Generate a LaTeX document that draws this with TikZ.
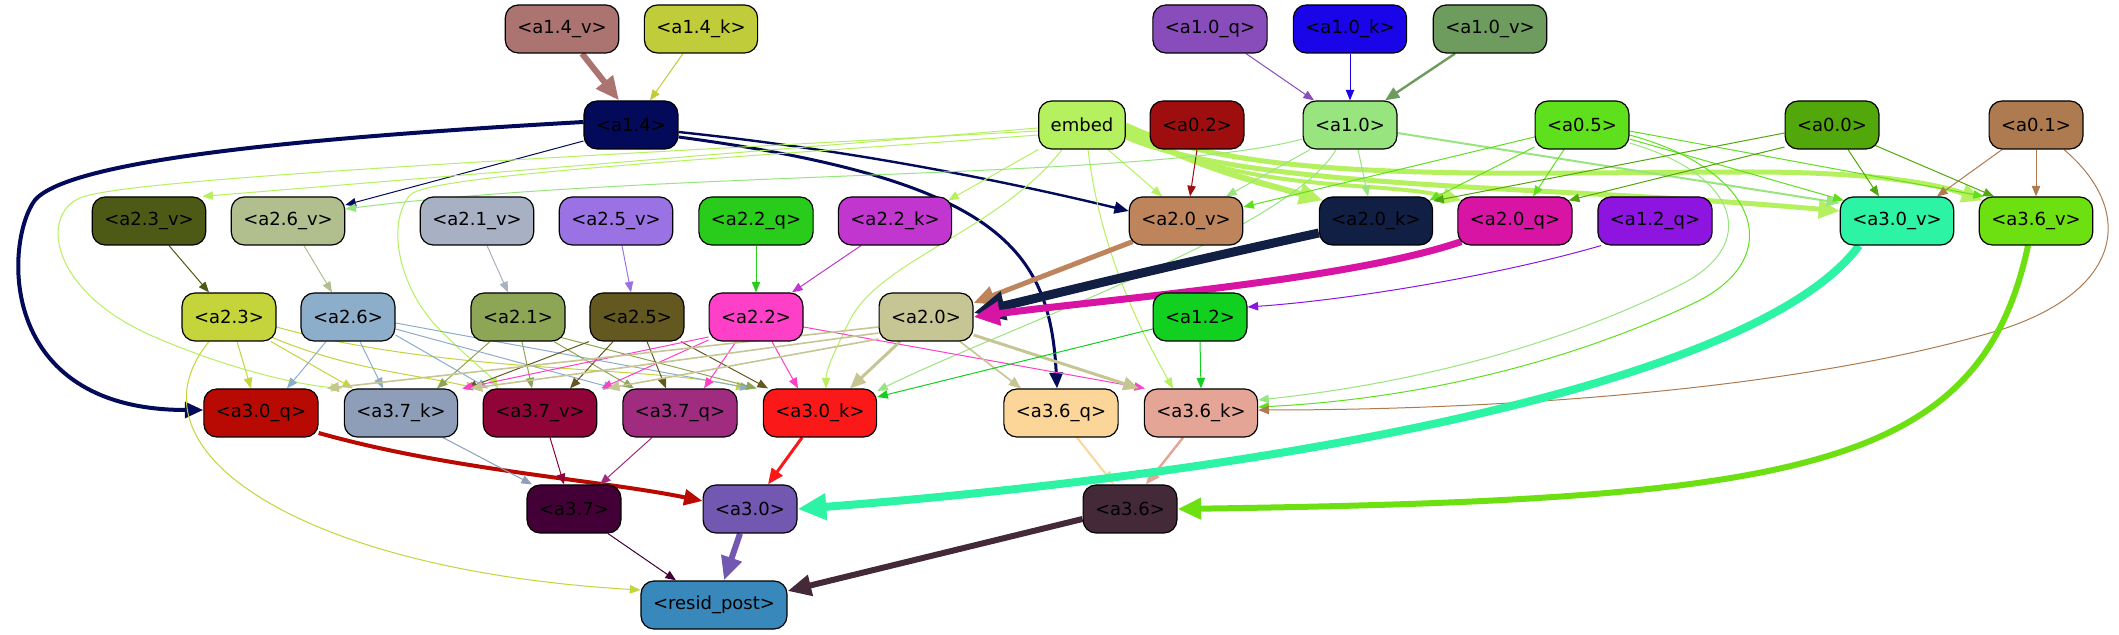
\documentclass[tikz,border=0pt]{standalone}
\usepackage{fontspec}
\setmainfont{DejaVu Sans}
\usetikzlibrary{arrows.meta}
\pgfdeclarelayer{bg}
\pgfsetlayers{bg,main}
\definecolor{c14v}{HTML}{AB7470}
\definecolor{c14k}{HTML}{C0CC3A}
\definecolor{c10q}{HTML}{884DBA}
\definecolor{c10k}{HTML}{1A04E8}
\definecolor{c10v}{HTML}{6E9B5E}
\definecolor{c14}{HTML}{030A5A}
\definecolor{cemb}{HTML}{B5F05E}
\definecolor{c02}{HTML}{9E0E0E}
\definecolor{c10}{HTML}{98E47E}
\definecolor{c05}{HTML}{5EE01C}
\definecolor{c00}{HTML}{52A80A}
\definecolor{c01}{HTML}{AE7A50}
\definecolor{c23v}{HTML}{4D5A16}
\definecolor{c26v}{HTML}{B1BE8E}
\definecolor{c21v}{HTML}{A8B0C4}
\definecolor{c25v}{HTML}{9A72E4}
\definecolor{c22q}{HTML}{2ACC1C}
\definecolor{c22k}{HTML}{C236D0}
\definecolor{c20v}{HTML}{BE845C}
\definecolor{c20k}{HTML}{121F44}
\definecolor{c20q}{HTML}{D814A4}
\definecolor{c12q}{HTML}{8E14E0}
\definecolor{c30v}{HTML}{2CF4A4}
\definecolor{c36v}{HTML}{6CE010}
\definecolor{c23}{HTML}{C4D43A}
\definecolor{c26}{HTML}{8CAECA}
\definecolor{c21}{HTML}{8CA656}
\definecolor{c25}{HTML}{625820}
\definecolor{c22}{HTML}{FE40C8}
\definecolor{c20}{HTML}{C6C694}
\definecolor{c12}{HTML}{12D020}
\definecolor{c30q}{HTML}{B80A02}
\definecolor{c37k}{HTML}{8E9EB8}
\definecolor{c37v}{HTML}{900438}
\definecolor{c37q}{HTML}{A02C80}
\definecolor{c30k}{HTML}{FA1818}
\definecolor{c36q}{HTML}{FCD698}
\definecolor{c36k}{HTML}{E4A496}
\definecolor{c37}{HTML}{420036}
\definecolor{c30}{HTML}{7258B0}
\definecolor{c36}{HTML}{442A38}
\definecolor{cres}{HTML}{3888BC}
\tikzset{
  nd/.style={draw=black, line width=0.6pt, rounded corners=6.5pt, minimum height=24pt,
    inner xsep=6pt, inner ysep=0pt, font=\fontsize{9}{11}\selectfont, text=black},
  e/.style={line width=0.5pt, -{Triangle[length=4pt 2.6, width=3pt 2.4]}}
}
\begin{document}
\begin{tikzpicture}[x=0.5pt,y=-0.5pt]
\useasboundingbox (0,0) rectangle (2119,635);
% row 1
\node[nd,fill=c14v] (a14v) at (562,29) {<a1.4\_v>};
\node[nd,fill=c14k] (a14k) at (701,29) {<a1.4\_k>};
\node[nd,fill=c10q] (a10q) at (1210,29) {<a1.0\_q>};
\node[nd,fill=c10k] (a10k) at (1350,29) {<a1.0\_k>};
\node[nd,fill=c10v] (a10v) at (1490,29) {<a1.0\_v>};
% row 2
\node[nd,fill=c14] (a14) at (631,125) {<a1.4>};
\node[nd,fill=cemb] (embed) at (1082,125) {embed};
\node[nd,fill=c02] (a02) at (1197,125) {<a0.2>};
\node[nd,fill=c10] (a10) at (1350,125) {<a1.0>};
\node[nd,fill=c05] (a05) at (1582,125) {<a0.5>};
\node[nd,fill=c00] (a00) at (1832,125) {<a0.0>};
\node[nd,fill=c01] (a01) at (2036,125) {<a0.1>};
% row 3
\node[nd,fill=c23v] (a23v) at (149,221) {<a2.3\_v>};
\node[nd,fill=c26v] (a26v) at (288,221) {<a2.6\_v>};
\node[nd,fill=c21v] (a21v) at (477,221) {<a2.1\_v>};
\node[nd,fill=c25v] (a25v) at (616,221) {<a2.5\_v>};
\node[nd,fill=c22q] (a22q) at (756,221) {<a2.2\_q>};
\node[nd,fill=c22k] (a22k) at (895,221) {<a2.2\_k>};
\node[nd,fill=c20v] (a20v) at (1186,221) {<a2.0\_v>};
\node[nd,fill=c20k] (a20k) at (1376,221) {<a2.0\_k>};
\node[nd,fill=c20q] (a20q) at (1515,221) {<a2.0\_q>};
\node[nd,fill=c12q] (a12q) at (1655,221) {<a1.2\_q>};
\node[nd,fill=c30v] (a30v) at (1897,221) {<a3.0\_v>};
\node[nd,fill=c36v] (a36v) at (2036,221) {<a3.6\_v>};
% row 4
\node[nd,fill=c23] (a23) at (229,317) {<a2.3>};
\node[nd,fill=c26] (a26) at (348,317) {<a2.6>};
\node[nd,fill=c21] (a21) at (518,317) {<a2.1>};
\node[nd,fill=c25] (a25) at (637,317) {<a2.5>};
\node[nd,fill=c22] (a22) at (756,317) {<a2.2>};
\node[nd,fill=c20] (a20) at (926,317) {<a2.0>};
\node[nd,fill=c12] (a12) at (1200,317) {<a1.2>};
% row 5
\node[nd,fill=c30q] (a30q) at (261,413) {<a3.0\_q>};
\node[nd,fill=c37k] (a37k) at (401,413) {<a3.7\_k>};
\node[nd,fill=c37v] (a37v) at (540,413) {<a3.7\_v>};
\node[nd,fill=c37q] (a37q) at (680,413) {<a3.7\_q>};
\node[nd,fill=c30k] (a30k) at (820,413) {<a3.0\_k>};
\node[nd,fill=c36q] (a36q) at (1061,413) {<a3.6\_q>};
\node[nd,fill=c36k] (a36k) at (1201,413) {<a3.6\_k>};
% row 6
\node[nd,fill=c37] (a37) at (574,509) {<a3.7>};
\node[nd,fill=c30] (a30) at (750,509) {<a3.0>};
\node[nd,fill=c36] (a36) at (1130,509) {<a3.6>};
% row 7
\node[nd,fill=cres] (resid) at (714,605) {<resid\_post>};

\begin{pgfonlayer}{bg}
\fill[white] (0,0) rectangle (2119,635);
% top
\draw[e,c14v,line width=3pt] ([xshift=10pt]a14v.south) -- ([xshift=-6pt]a14.north);
\draw[e,c14k] ([xshift=-9pt]a14k.south) -- ([xshift=9.5pt]a14.north);
\draw[e,c10q] ([xshift=18pt]a10q.south) -- ([xshift=-18pt]a10.north);
\draw[e,c10k] (a10k.south) -- (a10.north);
\draw[e,c10v,line width=1.2pt] ([xshift=-17.5pt]a10v.south) -- ([xshift=17.5pt]a10.north);
% a1.4
\draw[e,c14,line width=2pt] ([yshift=1.5pt]a14.west) .. controls (300,138) and (70,160) .. (35,200) .. controls (5,240) and (-5,410) .. ([yshift=1.5pt]a30q.west);
\draw[e,c14] ([yshift=-8pt]a14.west) -- ([yshift=8pt]a26v.east);
\draw[e,c14,line width=1.2pt] ([yshift=-3.5pt]a14.east) .. controls (850,150) and (1000,180) .. ([yshift=5pt]a20v.west);
\draw[e,c14,line width=1.5pt] ([yshift=-6pt]a14.east) .. controls (1000,180) and (1050,250) .. ([xshift=-2pt]a36q.north);
% embed
\draw[e,cemb] ([yshift=-1.5pt]embed.west) -- ([xshift=-2pt]a23v.north east);
\draw[e,cemb] ([yshift=-3pt]embed.west) .. controls (500,160) and (120,180) .. (80,198) .. controls (40,215) and (50,290) .. (150,335) .. controls (230,370) and (300,385) .. ([xshift=-1pt]a37k.north west);
\draw[e,cemb] ([yshift=-5pt]embed.west) .. controls (700,160) and (430,175) .. (410,195) .. controls (385,225) and (400,290) .. (440,330) .. controls (470,360) and (490,375) .. ([xshift=-21pt]a37v.north);
\draw[e,cemb] (embed.south west) -- ([xshift=-2pt,yshift=-2pt]a22k.north east);
\draw[e,cemb] ([xshift=13pt]embed.south) -- ([xshift=-12pt]a20v.north);
\draw[e,cemb,line width=3pt] ([yshift=-2pt]embed.east) .. controls (1200,170) and (1270,185) .. ([xshift=2pt,yshift=-2pt]a20k.north west);
\draw[e,cemb,line width=2pt] ([yshift=-4pt]embed.east) .. controls (1250,195) and (1380,180) .. ([xshift=2pt,yshift=-2pt]a20q.north west);
\draw[e,cemb,line width=2.5pt] ([yshift=-6pt]embed.east) .. controls (1250,190) and (1550,185) .. ([yshift=5pt]a30v.west);
\draw[e,cemb,line width=2.5pt] (embed.east) .. controls (1250,185) and (1500,172) .. (1750,172) .. controls (1880,172) and (1940,185) .. ([xshift=2pt,yshift=-2pt]a36v.north west);
\draw[e,cemb] ([xshift=-10pt]embed.south) .. controls (1000,230) and (880,260) .. (850,320) .. controls (835,350) and (826,370) .. ([xshift=3pt]a30k.north);
\draw[e,cemb] ([xshift=3pt]embed.south) .. controls (1100,250) and (1140,330) .. ([xshift=-14pt]a36k.north);
% a0.2
\draw[e,c02] (a02.south) -- ([xshift=2pt]a20v.north);
% a1.0
\draw[e,c10] ([xshift=-20pt]a10.south) -- ([xshift=20pt]a20v.north);
\draw[e,c10] ([xshift=4pt]a10.south) -- ([xshift=-4pt]a20k.north);
\draw[e,c10] ([xshift=-7pt]a10.south) .. controls (1290,230) and (1000,330) .. ([yshift=11pt]a30k.east);
\draw[e,c10] ([yshift=-7pt]a10.west) .. controls (1150,180) and (650,170) .. ([yshift=6pt]a26v.east);
\draw[e,c10,line width=1pt] ([yshift=-4pt]a10.east) -- ([yshift=9pt]a30v.west);
% a0.5
\draw[e,c05] ([yshift=-6pt]a05.west) -- ([yshift=7pt]a20v.east);
\draw[e,c05] ([yshift=-11pt]a05.west) -- ([xshift=-2pt,yshift=-2pt]a20k.north east);
\draw[e,c05] ([xshift=-9pt]a05.south) -- ([xshift=9pt]a20q.north);
\draw[e,c05] ([yshift=-7pt]a05.east) -- ([xshift=2pt,yshift=-2pt]a30v.north west);
\draw[e,c05] ([yshift=-3pt]a05.east) -- ([xshift=-26pt]a36v.north);
\draw[e,c05] ([yshift=-5pt]a05.east) .. controls (1760,170) and (1790,260) .. (1690,305) .. controls (1550,370) and (1400,400) .. ([yshift=3pt]a36k.east);
\draw[e,c10] ([yshift=-9pt]a05.east) .. controls (1740,175) and (1760,245) .. (1680,285) .. controls (1550,350) and (1400,385) .. ([yshift=6.5pt]a36k.east);
% a0.0
\draw[e,c00] ([yshift=-4pt]a00.west) -- ([yshift=10pt]a20k.east);
\draw[e,c00] ([yshift=-11pt]a00.west) -- ([xshift=-2pt,yshift=-2pt]a20q.north east);
\draw[e,c00] ([xshift=8pt]a00.south) -- ([xshift=-9pt]a30v.north);
\draw[e,c00] ([xshift=-2pt,yshift=2pt]a00.south east) -- ([xshift=-21pt]a36v.north);
% a0.1
\draw[e,c01] ([xshift=-17pt]a01.south) -- ([xshift=20pt]a30v.north);
\draw[e,c01] (a01.south) -- (a36v.north);
\draw[e,c01] ([xshift=14pt]a01.south) .. controls (2135,210) and (2125,290) .. (2000,330) .. controls (1800,390) and (1500,410) .. ([yshift=1.5pt]a36k.east);
% row 3 -> row 4
\draw[e,c23v] ([xshift=10pt]a23v.south) -- ([xshift=-10pt]a23.north);
\draw[e,c26v] ([xshift=8pt]a26v.south) -- ([xshift=-8pt]a26.north);
\draw[e,c21v] ([xshift=5pt]a21v.south) -- ([xshift=-5pt]a21.north);
\draw[e,c25v] ([xshift=3pt]a25v.south) -- ([xshift=-3pt]a25.north);
\draw[e,c22q] (a22q.south) -- (a22.north);
\draw[e,c22k] ([xshift=-17pt]a22k.south) -- ([xshift=18pt]a22.north);
\draw[e,c20v,line width=2.5pt] ([xshift=2pt,yshift=2pt]a20v.south west) -- ([yshift=7pt]a20.east);
\draw[e,c20k,line width=4.5pt] ([yshift=-6pt]a20k.west) .. controls (1150,270) and (1050,295) .. ([yshift=2pt]a20.east);
\draw[e,c20q,line width=3.5pt] ([xshift=2pt,yshift=2pt]a20q.south west) .. controls (1350,280) and (1100,300) .. (a20.east);
\draw[e,c12q] ([xshift=-27pt]a12q.south) .. controls (1500,275) and (1350,300) .. ([yshift=5pt]a12.east);
% row 4 -> row 5
\draw[e,c23] ([xshift=4pt]a23.south) -- ([xshift=-5pt]a30q.north);
\draw[e,c23] ([xshift=21pt]a23.south) -- ([xshift=-24pt]a37k.north);
\draw[e,c23] ([xshift=-2pt,yshift=2pt]a23.south east) .. controls (350,370) and (420,375) .. ([xshift=-3pt]a37v.north west);
\draw[e,c23] ([yshift=-5pt]a23.east) .. controls (450,375) and (650,365) .. ([xshift=-8pt]a30k.north west);
\draw[e,c23] ([xshift=-10pt]a23.south) .. controls (120,450) and (300,570) .. ([yshift=7.5pt]resid.west);
\draw[e,c26] ([xshift=-11pt]a26.south) -- ([xshift=13pt]a30q.north);
\draw[e,c26] ([xshift=6pt]a26.south) -- ([xshift=-9pt]a37k.north);
\draw[e,c26] ([yshift=-9pt]a26.east) -- ([xshift=-26pt]a37v.north);
\draw[e,c26] ([yshift=-6pt]a26.east) -- ([xshift=-4pt]a37q.north west);
\draw[e,c26] ([yshift=-3pt]a26.east) -- ([xshift=-6pt]a30k.north west);
\draw[e,c21] ([xshift=-14pt]a21.south) -- ([xshift=18pt]a37k.north);
\draw[e,c21] ([xshift=2pt]a21.south) -- ([xshift=-4pt]a37v.north);
\draw[e,c21] ([xshift=18pt]a21.south) -- ([xshift=-23pt]a37q.north);
\draw[e,c21] ([xshift=-2pt,yshift=2pt]a21.south east) -- ([xshift=-3pt]a30k.north west);
\draw[e,c25] ([xshift=-24pt]a25.south) -- ([xshift=4pt]a37k.north east);
\draw[e,c25] ([xshift=-12pt]a25.south) -- ([xshift=15pt]a37v.north);
\draw[e,c25] ([xshift=5pt]a25.south) -- ([xshift=-7pt]a37q.north);
\draw[e,c25] ([xshift=22pt]a25.south) -- ([xshift=-26pt]a30k.north);
\draw[e,c22] ([yshift=-10pt]a22.west) -- ([xshift=2pt]a37k.north east);
\draw[e,c22] ([yshift=-11.5pt]a22.west) -- ([xshift=2pt]a37v.north east);
\draw[e,c22] ([xshift=-10pt]a22.south) -- ([xshift=12pt]a37q.north);
\draw[e,c22] ([xshift=8pt]a22.south) -- ([xshift=-11pt]a30k.north);
\draw[e,c22] ([yshift=-5pt]a22.east) -- ([xshift=-28pt]a36k.north);
\draw[e,c20,line width=0.8pt] ([yshift=-5pt]a20.west) -- ([xshift=4pt]a30q.north east);
\draw[e,c20,line width=0.8pt] ([yshift=-8pt]a20.west) -- ([xshift=6pt]a37k.north east);
\draw[e,c20,line width=0.8pt] ([yshift=-11pt]a20.west) -- ([xshift=5pt]a37v.north east);
\draw[e,c20,line width=1.5pt] ([xshift=-13pt]a20.south) -- ([xshift=15pt]a30k.north);
\draw[e,c20,line width=0.8pt] ([xshift=17pt]a20.south) -- ([xshift=-20pt]a36q.north);
\draw[e,c20,line width=1.5pt] ([yshift=-9pt]a20.east) -- ([xshift=-31pt]a36k.north);
\draw[e,c12] ([yshift=-6pt]a12.west) -- ([yshift=8pt]a30k.east);
\draw[e,c12] (a12.south) -- (a36k.north);
% row 5 -> row 6
\draw[e,c30q,line width=2pt] ([yshift=-10pt]a30q.east) .. controls (450,470) and (600,480) .. ([yshift=4pt]a30.west);
\draw[e,c37k] ([xshift=21pt]a37k.south) -- ([xshift=-21pt]a37.north);
\draw[e,c37v] ([xshift=5pt]a37v.south) -- ([xshift=-5pt]a37.north);
\draw[e,c37q] ([xshift=-14pt]a37q.south) -- ([xshift=13pt]a37.north);
\draw[e,c30k,line width=1.5pt] ([xshift=-9pt]a30k.south) -- ([xshift=9pt]a30.north);
\draw[e,c36q,line width=1pt] ([xshift=8pt]a36q.south) -- ([xshift=-8pt]a36.north);
\draw[e,c36k,line width=1.2pt] ([xshift=-9pt]a36k.south) -- ([xshift=8pt]a36.north);
\draw[e,c30v,line width=4pt] ([xshift=-19pt]a30v.south) .. controls (1760,380) and (1300,470) .. (a30.east);
\draw[e,c36v,line width=3pt] ([xshift=-4pt]a36v.south) .. controls (1980,470) and (1800,500) .. (a36.east);
% row 6 -> row 7
\draw[e,c37] ([xshift=17pt]a37.south) -- ([xshift=-19pt]resid.north);
\draw[e,c30,line width=3pt] ([xshift=-5pt]a30.south) -- ([xshift=5pt]resid.north);
\draw[e,c36,line width=3pt] ([yshift=-5pt]a36.west) -- ([yshift=7pt]resid.east);
\end{pgfonlayer}
\end{tikzpicture}
\end{document}
